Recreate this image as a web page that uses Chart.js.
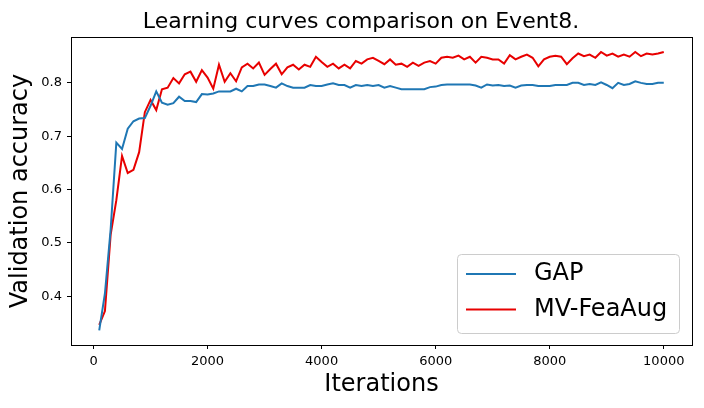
<!DOCTYPE html>
<html>
<head>
<meta charset="utf-8">
<script src="https://cdn.jsdelivr.net/npm/chart.js@4.4.1/dist/chart.umd.min.js"></script>
<style>
  html, body { margin: 0; padding: 0; background: #ffffff; }
  #wrap { width: 704px; height: 408px; }
</style>
</head>
<body>
<div id="wrap"><canvas id="c" width="704" height="408"></canvas></div>
<script>
const chartTitle = "Learning curves comparison on Event8.";
const xLabel = "Iterations";
const yLabel = "Validation accuracy";
const seriesNames = ["GAP", "MV-FeaAug"];
const xTicks = [0, 2000, 4000, 6000, 8000, 10000];
const yTicks = [0.4, 0.5, 0.6, 0.7, 0.8];

const iterations = [
  100, 200, 300, 400, 500, 600, 700, 800, 900, 1000,
  1100, 1200, 1300, 1400, 1500, 1600, 1700, 1800, 1900, 2000,
  2100, 2200, 2300, 2400, 2500, 2600, 2700, 2800, 2900, 3000,
  3100, 3200, 3300, 3400, 3500, 3600, 3700, 3800, 3900, 4000,
  4100, 4200, 4300, 4400, 4500, 4600, 4700, 4800, 4900, 5000,
  5100, 5200, 5300, 5400, 5500, 5600, 5700, 5800, 5900, 6000,
  6100, 6200, 6300, 6400, 6500, 6600, 6700, 6800, 6900, 7000,
  7100, 7200, 7300, 7400, 7500, 7600, 7700, 7800, 7900, 8000,
  8100, 8200, 8300, 8400, 8500, 8600, 8700, 8800, 8900, 9000,
  9100, 9200, 9300, 9400, 9500, 9600, 9700, 9800, 9900, 10000
];

const gapAcc = [
  0.336, 0.405, 0.525, 0.688, 0.676, 0.714, 0.728, 0.733, 0.734, 0.757,
  0.784, 0.763, 0.759, 0.762, 0.774, 0.766, 0.766, 0.764, 0.779, 0.778,
  0.780, 0.784, 0.784, 0.784, 0.789, 0.784, 0.794, 0.794, 0.797, 0.797,
  0.794, 0.791, 0.799, 0.794, 0.791, 0.791, 0.791, 0.796, 0.794, 0.794,
  0.797, 0.799, 0.796, 0.796, 0.791, 0.796, 0.794, 0.796, 0.794, 0.796,
  0.791, 0.794, 0.791, 0.788, 0.788, 0.788, 0.788, 0.788, 0.792, 0.793,
  0.796, 0.797, 0.797, 0.797, 0.797, 0.797, 0.795, 0.791, 0.797, 0.795,
  0.796, 0.794, 0.795, 0.791, 0.795, 0.796, 0.796, 0.794, 0.794, 0.794,
  0.796, 0.796, 0.796, 0.800, 0.800, 0.796, 0.798, 0.796, 0.801, 0.796,
  0.790, 0.800, 0.796, 0.798, 0.803, 0.800, 0.798, 0.798, 0.800, 0.800
];

const mvAcc = [
  0.346, 0.372, 0.515, 0.580, 0.663, 0.631, 0.637, 0.670, 0.745, 0.768,
  0.749, 0.788, 0.791, 0.809, 0.799, 0.816, 0.821, 0.802, 0.824, 0.810,
  0.789, 0.834, 0.802, 0.818, 0.803, 0.829, 0.836, 0.827, 0.838, 0.815,
  0.826, 0.836, 0.816, 0.829, 0.834, 0.825, 0.834, 0.830, 0.849, 0.839,
  0.830, 0.836, 0.827, 0.834, 0.827, 0.841, 0.836, 0.844, 0.847, 0.841,
  0.835, 0.844, 0.834, 0.836, 0.830, 0.838, 0.832, 0.838, 0.841, 0.836,
  0.847, 0.849, 0.847, 0.851, 0.844, 0.849, 0.838, 0.849, 0.847, 0.844,
  0.844, 0.836, 0.852, 0.844, 0.849, 0.853, 0.847, 0.831, 0.844, 0.849,
  0.851, 0.849, 0.835, 0.846, 0.855, 0.850, 0.853, 0.847, 0.858, 0.851,
  0.855, 0.849, 0.853, 0.849, 0.858, 0.850, 0.855, 0.853, 0.855, 0.858
];

const colors = ["#1f77b4", "#e80000"];
const FONT = "'DejaVu Sans', 'Liberation Sans', sans-serif";

function toPoints(xs, ys) {
  return xs.map((x, i) => ({ x: x, y: ys[i] }));
}

const overlayPlugin = {
  id: 'overlay',
  afterDraw(chart) {
    const ctx = chart.ctx;
    const a = chart.chartArea;
    ctx.save();
    // frame (axes spines)
    ctx.strokeStyle = '#000000';
    ctx.lineWidth = 1;
    ctx.strokeRect(Math.round(a.left) + 0.5, Math.round(a.top) + 0.5,
                   Math.round(a.right - a.left), Math.round(a.bottom - a.top));
    // title
    ctx.fillStyle = '#000000';
    ctx.font = "22px " + FONT;
    ctx.textAlign = 'center';
    ctx.textBaseline = 'alphabetic';
    ctx.fillText(chartTitle, 361, 28);
    // legend
    const lx = 457.5, ly = 254.5, lw = 222, lh = 79, r = 4;
    ctx.beginPath();
    ctx.moveTo(lx + r, ly);
    ctx.lineTo(lx + lw - r, ly);
    ctx.quadraticCurveTo(lx + lw, ly, lx + lw, ly + r);
    ctx.lineTo(lx + lw, ly + lh - r);
    ctx.quadraticCurveTo(lx + lw, ly + lh, lx + lw - r, ly + lh);
    ctx.lineTo(lx + r, ly + lh);
    ctx.quadraticCurveTo(lx, ly + lh, lx, ly + lh - r);
    ctx.lineTo(lx, ly + r);
    ctx.quadraticCurveTo(lx, ly, lx + r, ly);
    ctx.closePath();
    ctx.fillStyle = 'rgba(255,255,255,0.8)';
    ctx.fill();
    ctx.strokeStyle = '#cccccc';
    ctx.stroke();
    const rows = [274, 309.5];
    chart.data.datasets.forEach((ds, i) => {
      ctx.strokeStyle = ds.borderColor;
      ctx.lineWidth = 2;
      ctx.beginPath();
      ctx.moveTo(466, rows[i]);
      ctx.lineTo(516, rows[i]);
      ctx.stroke();
      ctx.fillStyle = '#000000';
      ctx.font = "24px " + FONT;
      ctx.textAlign = 'left';
      ctx.textBaseline = 'middle';
      ctx.fillText(ds.label, 534, rows[i]);
    });
    ctx.restore();
  }
};

new Chart(document.getElementById('c'), {
  type: 'line',
  data: {
    datasets: [
      { label: seriesNames[0], data: toPoints(iterations, gapAcc), borderColor: colors[0], backgroundColor: colors[0],
        borderWidth: 2, pointRadius: 0, fill: false, tension: 0 },
      { label: seriesNames[1], data: toPoints(iterations, mvAcc), borderColor: colors[1], backgroundColor: colors[1],
        borderWidth: 2, pointRadius: 0, fill: false, tension: 0 }
    ]
  },
  options: {
    responsive: false,
    devicePixelRatio: 1,
    animation: false,
    events: [],
    layout: { padding: { top: 37, right: 12, left: 0, bottom: 0 } },
    plugins: { legend: { display: false }, title: { display: false }, tooltip: { enabled: false } },
    scales: {
      x: {
        type: 'linear',
        min: -395, max: 10495,
        afterFit(scale) { scale.height = 63; },
        afterBuildTicks(scale) { scale.ticks = xTicks.map(v => ({ value: v })); },
        grid: { display: true, drawOnChartArea: false, drawTicks: true, tickLength: 4, color: '#000000', tickWidth: 1 },
        border: { display: false },
        ticks: { color: '#000000', font: { family: FONT, size: 13 }, padding: 5, maxRotation: 0, autoSkip: false,
                 callback: (v) => String(v) },
        title: { display: true, text: xLabel, color: '#000000', font: { family: FONT, size: 24 }, padding: { top: 0, bottom: 8.6 } }
      },
      y: {
        type: 'linear',
        min: 0.3084, max: 0.886,
        afterFit(scale) { scale.width = 71; },
        afterBuildTicks(scale) { scale.ticks = yTicks.map(v => ({ value: v })); },
        grid: { display: true, drawOnChartArea: false, drawTicks: true, tickLength: 4, color: '#000000', tickWidth: 1 },
        border: { display: false },
        ticks: { color: '#000000', font: { family: FONT, size: 13 }, padding: 5, autoSkip: false,
                 callback: (v) => Number(v).toFixed(1) },
        title: { display: true, text: yLabel, color: '#000000', font: { family: FONT, size: 24 }, padding: { top: 6, bottom: 0 } }
      }
    }
  },
  plugins: [overlayPlugin]
});
</script>
</body>
</html>
